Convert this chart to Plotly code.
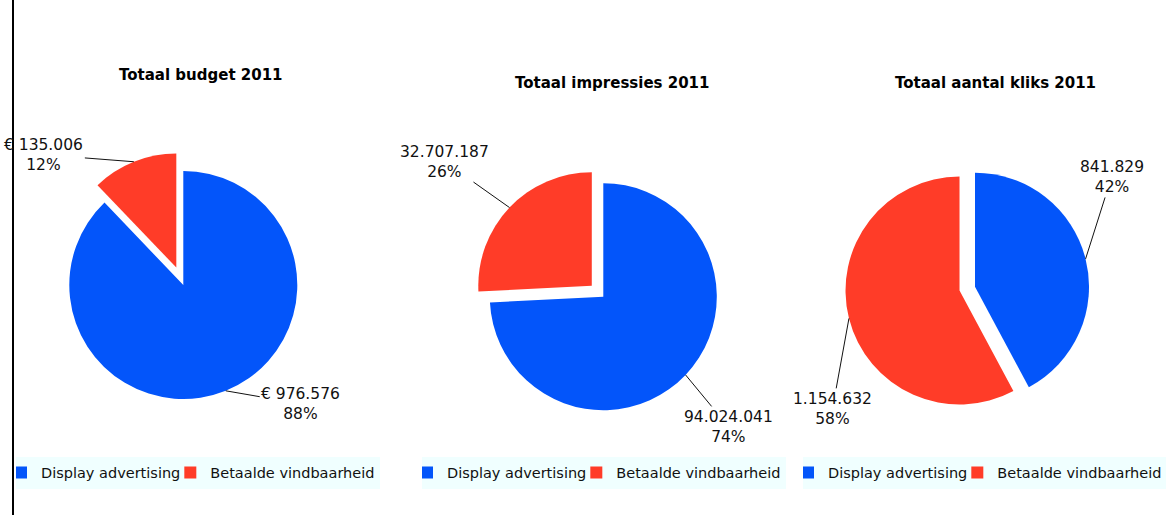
import math
import plotly.graph_objects as go

# ---- data ----
categories = ["Display advertising", "Betaalde vindbaarheid"]
titles = ["Totaal budget 2011", "Totaal impressies 2011", "Totaal aantal kliks 2011"]
budget = [976576, 135006]
impressies = [94024041, 32707187]
kliks = [841829, 1154632]
prefixes = ["€ ", "", ""]
series = [budget, impressies, kliks]
pulled_index = [1, 1, 1]

# ---- layout / style ----
W, H = 1166, 515
colors = ["#0355FA", "#FF3C28"]
FONT = "DejaVu Sans"
centers = [(183.3, 285.0), (603.3, 296.7), (975.0, 286.7)]
radius = [114, 113.5, 114]
pulls = [0.165, 0.14, 0.14]
title_pos = [(200.5, 75), (611.5, 83), (995.5, 83)]
legend_left = [16, 422, 803]
legend_cy = 472.5
# label offsets (px) from the slice edge to label centre, per pie, per slice
label_offsets = [
    [(75, 13), (-90, -7)],
    [(43, 52), (-65, -46)],
    [(26, -82), (-16.5, 90.5)],
]


def fmt(v):
    return f"{v:,}".replace(",", ".")


fig = go.Figure()
annotations = []
legend_names = ["legend", "legend2", "legend3"]

for i, vals in enumerate(series):
    cx, cy = centers[i]
    R = radius[i]
    half = R * (1 + pulls[i])
    dom_x = [(cx - half) / W, (cx + half) / W]
    dom_y = [1 - (cy + half) / H, 1 - (cy - half) / H]
    pull = [pulls[i] if k == pulled_index[i] else 0 for k in range(len(vals))]
    # invisible suffix keeps each pie's legend entries distinct
    labels = [c + "\u200b" * i for c in categories]
    fig.add_trace(go.Pie(
        labels=labels, values=vals, sort=False, direction="clockwise",
        rotation=0, pull=pull, textinfo="none", hoverinfo="label+value+percent",
        marker=dict(colors=colors, line=dict(width=0)),
        domain=dict(x=dom_x, y=dom_y), legend=legend_names[i],
    ))
    total = sum(vals)
    start = 0.0
    for k, v in enumerate(vals):
        frac = v / total
        mid = (start + frac / 2) * 2 * math.pi
        start += frac
        sx, sy = math.sin(mid), -math.cos(mid)
        p = pull[k] * R
        hx = cx + (p + R) * sx
        hy = cy + (p + R) * sy
        ax, ay = label_offsets[i][k]
        annotations.append(dict(
            x=hx / W, y=1 - hy / H, xref="paper", yref="paper",
            text=f"{prefixes[i]}{fmt(v)}<br>{round(frac * 100)}%",
            showarrow=True, arrowhead=0, arrowwidth=1, arrowcolor="#111",
            ax=ax, ay=ay, font=dict(family=FONT, size=15.5, color="#111"),
            align="center",
        ))
    tx, ty = title_pos[i]
    annotations.append(dict(
        x=tx / W, y=1 - ty / H, xref="paper", yref="paper", showarrow=False,
        text=f"<b>{titles[i]}</b>", xanchor="center", yanchor="middle",
        font=dict(family=FONT, size=15, color="#000"),
    ))

legend_style = dict(
    orientation="h", xanchor="left", yanchor="middle", y=1 - legend_cy / H,
    bgcolor="#F0FFFF", font=dict(family=FONT, size=14.5, color="#111"),
    itemclick=False, itemdoubleclick=False, traceorder="normal",
    indentation=-15,
)

fig.update_layout(
    width=W, height=H,
    margin=dict(l=0, r=0, t=0, b=0, autoexpand=False),
    paper_bgcolor="white", plot_bgcolor="white",
    font=dict(family=FONT),
    annotations=annotations,
    legend=dict(x=legend_left[0] / W, **legend_style),
    legend2=dict(x=legend_left[1] / W, **legend_style),
    legend3=dict(x=legend_left[2] / W, **legend_style),
    shapes=[dict(type="line", xref="paper", yref="paper", x0=13 / W, x1=13 / W,
                 y0=0, y1=1, line=dict(color="black", width=2))],
)

fig.write_html("out.html", config={"displayModeBar": False},
               post_script="document.body.style.margin='0';")
